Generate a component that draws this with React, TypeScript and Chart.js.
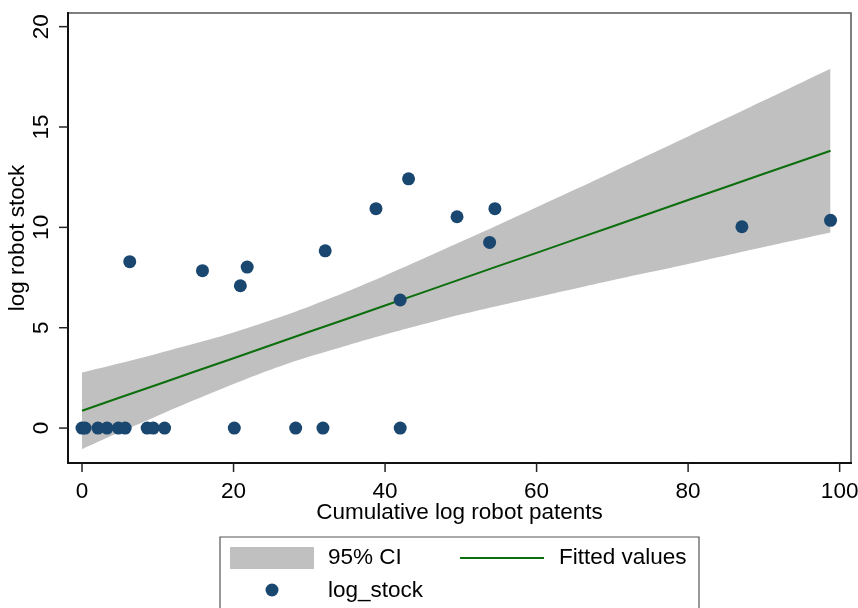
import React, { useEffect, useRef } from "react";
import { Chart, registerables } from "chart.js";

Chart.register(...registerables);

// Observations
const patents = [0, 0.4, 2.1, 3.3, 4.8, 5.7, 8.6, 9.4, 10.9, 20.1, 28.2, 31.8, 42.0, 6.3, 15.9, 20.9, 21.8, 32.1, 38.8, 43.1, 42.0, 49.5, 54.5, 53.8, 87.1, 98.8];
const logStock = [0, 0, 0, 0, 0, 0, 0, 0, 0, 0, 0, 0, 0, 8.29, 7.84, 7.09, 8.02, 8.83, 10.93, 12.42, 6.38, 10.53, 10.93, 9.25, 10.03, 10.35];

// Fitted line and 95% CI band
const ciX = [0, 5, 10, 15, 20, 25, 30, 35, 40, 45, 50, 55, 60, 65, 70, 75, 80, 85, 90, 95, 98.8];
const ciUpper = [2.77, 3.23, 3.72, 4.22, 4.76, 5.38, 6.06, 6.80, 7.60, 8.43, 9.28, 10.13, 11.00, 11.87, 12.75, 13.64, 14.53, 15.42, 16.32, 17.22, 17.90];
const ciLower = [-1.05, -0.20, 0.62, 1.42, 2.20, 2.92, 3.56, 4.12, 4.66, 5.17, 5.66, 6.10, 6.52, 6.94, 7.36, 7.77, 8.18, 8.60, 9.02, 9.43, 9.74];
const fittedY = [0.86, 1.52, 2.17, 2.83, 3.48, 4.14, 4.80, 5.45, 6.11, 6.76, 7.42, 8.08, 8.73, 9.39, 10.04, 10.70, 11.36, 12.01, 12.67, 13.32, 13.82];

const xTicks = [0, 20, 40, 60, 80, 100];
const yTicks = [0, 5, 10, 15, 20];

const xTitle = "Cumulative log robot patents";
const yTitle = "log robot stock";
const legendCI = "95% CI";
const legendFit = "Fitted values";
const legendPts = "log_stock";

const NAVY = "#1a476f";
const GREEN = "#0c6e0c";
const BAND = "#c0c0c0";
const FONT = "22.5px 'Liberation Sans', Arial, sans-serif";

const decor = {
  id: "stataDecor",
  afterDraw(chart: any) {
    const ctx = chart.ctx as CanvasRenderingContext2D;
    const xs = chart.scales.x;
    const ys = chart.scales.y;
    const a = chart.chartArea;
    ctx.save();
    // frame top/right
    ctx.strokeStyle = "#555";
    ctx.lineWidth = 1.5;
    ctx.beginPath();
    ctx.moveTo(a.left, a.top);
    ctx.lineTo(a.right, a.top);
    ctx.lineTo(a.right, a.bottom);
    ctx.stroke();
    // axes
    ctx.strokeStyle = "#111";
    ctx.lineWidth = 2;
    ctx.beginPath();
    ctx.moveTo(a.left, a.top - 1);
    ctx.lineTo(a.left, a.bottom);
    ctx.lineTo(a.right + 1, a.bottom);
    ctx.stroke();
    // ticks
    ctx.lineWidth = 1.5;
    ctx.strokeStyle = "#222";
    ctx.fillStyle = "#000";
    ctx.font = FONT;
    for (const t of xTicks) {
      const px = xs.getPixelForValue(t);
      ctx.beginPath();
      ctx.moveTo(px, a.bottom);
      ctx.lineTo(px, a.bottom + 9);
      ctx.stroke();
      ctx.textAlign = "center";
      ctx.textBaseline = "middle";
      ctx.fillText(String(t), px, a.bottom + 29);
    }
    for (const t of yTicks) {
      const py = ys.getPixelForValue(t);
      ctx.beginPath();
      ctx.moveTo(a.left - 9, py);
      ctx.lineTo(a.left, py);
      ctx.stroke();
      ctx.save();
      ctx.translate(a.left - 26, py);
      ctx.rotate(-Math.PI / 2);
      ctx.textAlign = "center";
      ctx.textBaseline = "middle";
      ctx.fillText(String(t), 0, 0);
      ctx.restore();
    }
    // titles
    ctx.textAlign = "center";
    ctx.textBaseline = "middle";
    ctx.fillText(xTitle, (a.left + a.right) / 2, a.bottom + 50);
    ctx.save();
    ctx.translate(18, (a.top + a.bottom) / 2);
    ctx.rotate(-Math.PI / 2);
    ctx.fillText(yTitle, 0, 0);
    ctx.restore();
    // legend
    ctx.strokeStyle = "#555";
    ctx.lineWidth = 1.2;
    ctx.beginPath();
    ctx.moveTo(220, 620);
    ctx.lineTo(220, 537);
    ctx.lineTo(699, 537);
    ctx.lineTo(699, 620);
    ctx.stroke();
    ctx.fillStyle = BAND;
    ctx.fillRect(230, 547, 84, 22);
    ctx.strokeStyle = GREEN;
    ctx.lineWidth = 2;
    ctx.beginPath();
    ctx.moveTo(460, 558);
    ctx.lineTo(544, 558);
    ctx.stroke();
    ctx.fillStyle = NAVY;
    ctx.beginPath();
    ctx.arc(272, 590, 6.5, 0, Math.PI * 2);
    ctx.fill();
    ctx.fillStyle = "#000";
    ctx.textAlign = "left";
    ctx.fillText(legendCI, 328, 558);
    ctx.fillText(legendFit, 559, 558);
    ctx.fillText(legendPts, 328, 591);
    ctx.restore();
  },
};

export default function App() {
  const ref = useRef<HTMLCanvasElement | null>(null);
  useEffect(() => {
    if (!ref.current) return;
    const chart = new Chart(ref.current, {
      type: "line",
      data: {
        datasets: [
          {
            type: "scatter",
            label: legendPts,
            data: patents.map((x, i) => ({ x, y: logStock[i] })),
            backgroundColor: NAVY,
            borderWidth: 0,
            pointRadius: 6.5,
            pointHoverRadius: 6.5,
            order: 0,
          } as any,
          {
            label: legendFit,
            data: ciX.map((x, i) => ({ x, y: fittedY[i] })),
            borderColor: GREEN,
            borderWidth: 2,
            pointRadius: 0,
            fill: false,
            tension: 0,
            order: 1,
          },
          {
            label: "upper",
            data: ciX.map((x, i) => ({ x, y: ciUpper[i] })),
            borderWidth: 0,
            borderColor: "rgba(0,0,0,0)",
            backgroundColor: BAND,
            pointRadius: 0,
            fill: "+1",
            tension: 0.3,
            order: 2,
          },
          {
            label: "lower",
            data: ciX.map((x, i) => ({ x, y: ciLower[i] })),
            borderWidth: 0,
            borderColor: "rgba(0,0,0,0)",
            backgroundColor: BAND,
            pointRadius: 0,
            fill: false,
            tension: 0.3,
            order: 3,
          },
        ],
      },
      options: {
        animation: false,
        responsive: false,
        devicePixelRatio: 1,
        layout: { padding: { left: 0, top: 13, right: 7, bottom: 0 } },
        plugins: { legend: { display: false }, tooltip: { enabled: false } },
        scales: {
          x: {
            type: "linear",
            min: -1.85,
            max: 101.5,
            ticks: { display: false },
            grid: { display: false },
            border: { display: false },
            afterFit: (s: any) => {
              s.height = 145;
            },
          },
          y: {
            type: "linear",
            min: -1.74,
            max: 20.68,
            ticks: { display: false },
            grid: { display: false },
            border: { display: false },
            afterFit: (s: any) => {
              s.width = 68;
            },
          },
        },
      },
      plugins: [decor],
    });
    return () => chart.destroy();
  }, []);
  return (
    <div style={{ position: "fixed", left: 0, top: 0, width: 858, height: 608, background: "#fff" }}>
      <canvas ref={ref} width={858} height={608} style={{ width: 858, height: 608, display: "block" }} />
    </div>
  );
}
